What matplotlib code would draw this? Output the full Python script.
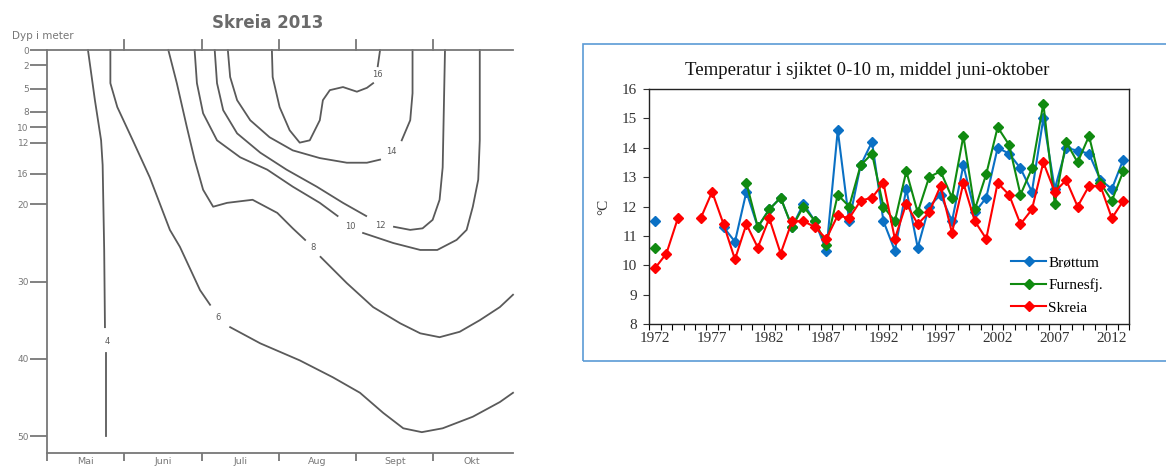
import matplotlib
matplotlib.use('Agg')
import matplotlib.pyplot as plt
import numpy as np
from matplotlib.patches import Rectangle

nan = np.nan

# ---- Left panel: isotherms, Skreia 2013 (month since 1 May, depth in m) ----
months = ['Mai', 'Juni', 'Juli', 'Aug', 'Sept', 'Okt']
depth_ticks = [0, 2, 5, 8, 10, 12, 16, 20, 30, 40, 50]

# each isotherm: (label, label position, list of segments [(months, depths), ...])
iso4 = ('4', (0.78, 37.7), [
    ([0.53, 0.62, 0.70, 0.72, 0.74, 0.75], [0, 6.5, 11.7, 14.9, 25.9, 35.9]),
    ([0.76, 0.76], [39.2, 50.0])])
iso6 = ('6', (2.21, 34.6), [
    ([0.82, 0.82, 0.91, 1.11, 1.33, 1.59, 1.72, 1.98, 2.11],
     [0, 4.3, 7.4, 11.7, 16.5, 23.3, 25.5, 31.1, 33.0]),
    ([2.37, 2.76, 3.27, 3.70, 4.05, 4.35, 4.61, 4.85, 5.12, 5.51, 5.86, 6.03],
     [35.9, 38.0, 40.2, 42.4, 44.4, 47.0, 49.0, 49.5, 49.0, 47.5, 45.6, 44.4])])
iso8 = ('8', (3.44, 25.6), [
    ([1.57, 1.68, 1.81, 1.91, 2.02, 2.15, 2.33, 2.66, 2.98, 3.18, 3.34],
     [0, 4.3, 10.0, 14.2, 18.1, 20.3, 19.8, 19.4, 21.1, 23.1, 24.6]),
    ([3.54, 3.88, 4.22, 4.57, 4.83, 5.08, 5.34, 5.60, 5.86, 6.03],
     [26.8, 30.2, 33.3, 35.4, 36.7, 37.2, 36.5, 35.0, 33.3, 31.7])])
iso10 = ('10', (3.92, 22.9), [
    ([1.91, 1.94, 2.02, 2.20, 2.50, 2.85, 3.18, 3.53, 3.76],
     [0, 4.3, 8.2, 11.7, 13.9, 15.5, 17.7, 19.8, 21.5]),
    ([4.09, 4.48, 4.83, 5.05, 5.30, 5.43, 5.51, 5.58, 5.60, 5.60],
     [23.7, 25.0, 25.9, 25.9, 24.6, 23.3, 20.3, 16.8, 11.7, 0])])
iso12 = ('12', (4.31, 22.7), [
    ([2.17, 2.20, 2.28, 2.46, 2.76, 3.10, 3.49, 3.83, 4.13],
     [0, 4.3, 7.8, 10.8, 13.3, 15.5, 17.7, 19.8, 21.5]),
    ([4.49, 4.70, 4.86, 4.99, 5.08, 5.12, 5.15],
     [22.9, 23.3, 23.1, 22.0, 19.4, 15.2, 0])])
iso14 = ('14', (4.46, 13.2), [
    ([2.34, 2.37, 2.46, 2.63, 2.88, 3.18, 3.53, 3.88, 4.14, 4.31],
     [0, 3.5, 6.5, 9.1, 11.3, 13.0, 14.0, 14.6, 14.6, 14.2]),
    ([4.59, 4.70, 4.73, 4.73], [11.7, 9.1, 5.6, 0])])
iso16 = ('16', (4.28, 3.2), [
    ([2.91, 2.92, 3.01, 3.14, 3.27, 3.40, 3.53, 3.57, 3.66, 3.83, 4.01, 4.14, 4.22],
     [0, 3.5, 7.4, 10.4, 12.0, 11.7, 9.1, 6.5, 5.2, 4.8, 5.4, 4.9, 4.3]),
    ([4.28, 4.31], [2.1, 0])])
isotherms = [iso4, iso6, iso8, iso10, iso12, iso14, iso16]

# ---- Right panel: mean temperature 0-10 m, June-October ----
years = list(range(1972, 2014))
brottum = [11.5, nan, nan, nan, nan, nan, 11.3, 10.8, 12.5, 11.3, 11.9, 12.3, 11.3, 12.1,
           11.5, 10.5, 14.6, 11.5, 13.4, 14.2, 11.5, 10.5, 12.6, 10.6, 12.0, 12.4, 11.5, 13.4,
           11.8, 12.3, 14.0, 13.8, 13.3, 12.5, 15.0, 12.6, 14.0, 13.9, 13.8, 12.9, 12.6, 13.6]
furnesfj = [10.6, nan, nan, nan, nan, nan, nan, nan, 12.8, 11.3, 11.9, 12.3, 11.3, 12.0,
            11.5, 10.7, 12.4, 12.0, 13.4, 13.8, 12.0, 11.5, 13.2, 11.8, 13.0, 13.2, 12.3, 14.4,
            11.9, 13.1, 14.7, 14.1, 12.4, 13.3, 15.5, 12.1, 14.2, 13.5, 14.4, 12.8, 12.2, 13.2]
skreia = [9.9, 10.4, 11.6, nan, 11.6, 12.5, 11.4, 10.2, 11.4, 10.6, 11.6, 10.4, 11.5, 11.5,
          11.3, 10.9, 11.7, 11.6, 12.2, 12.3, 12.8, 10.9, 12.1, 11.4, 11.8, 12.7, 11.1, 12.8,
          11.5, 10.9, 12.8, 12.4, 11.4, 11.9, 13.5, 12.5, 12.9, 12.0, 12.7, 12.7, 11.6, 12.2]
series_names = ['Brøttum', 'Furnesfj.', 'Skreia']
series_colors = ['#0a70c4', '#108a10', '#ff0000']

GRAY = '#5a5a5a'
LIGHT = '#777777'


def drawIsotherms(ax):
    ax.set_xlim(0, 6.03)
    ax.set_ylim(52.2, 0)
    # only top, bottom and left axis lines
    ax.spines.right.set_visible(False)
    for s in ['top', 'bottom', 'left']:
        ax.spines[s].set_color(LIGHT)
        ax.spines[s].set_linewidth(1.3)
    # depth ticks: long ticks to the left
    ax.set_yticks(depth_ticks)
    ax.set_yticklabels([str(d) for d in depth_ticks])
    ax.tick_params(axis='y', direction='out', length=12, width=1.3, color=LIGHT,
                   labelsize=6.5, labelcolor=LIGHT, pad=1)
    # month boundaries on the bottom line
    ax.set_xticks(range(0, 6))
    ax.set_xticklabels([])
    ax.tick_params(axis='x', direction='out', length=6, width=1.3, color=LIGHT)
    # small ticks above the top line
    for m in range(1, 6):
        ax.plot([m, m], [0, -1.3], color=LIGHT, lw=1.3, clip_on=False)
    for i, name in enumerate(months):
        ax.text(i + 0.5, -0.01, name, transform=ax.get_xaxis_transform(),
                ha='center', va='top', fontsize=6.8, color=LIGHT)
    # isotherm lines with a gap at the label
    for label, (lx, ly), segs in isotherms:
        for xs, ys in segs:
            ax.plot(xs, ys, color=GRAY, lw=1.3, solid_joinstyle='round', clip_on=False)
        ax.text(lx, ly, label, ha='center', va='center', fontsize=6, color=GRAY)
    ax.set_title('Skreia 2013', fontsize=12, fontweight='semibold', color='#6a6a6a', pad=16,
                 x=0.474)
    ax.text(-0.075, 1.035, 'Dyp i meter', transform=ax.transAxes, fontsize=7.5,
            color=LIGHT, ha='left', va='center')


def drawSeries(ax):
    for vals, name, col in zip([brottum, furnesfj, skreia], series_names, series_colors):
        ax.plot(years, vals, color=col, lw=1.5, marker='D', markersize=5.5, label=name)
    ax.set_xlim(1971.5, 2013.5)
    ax.set_ylim(8, 16)
    ax.set_yticks(range(8, 17))
    ax.set_xticks(range(1972, 2013, 5))
    ax.set_xticks(np.arange(1971.5, 2014, 1), minor=True)
    ax.tick_params(axis='x', which='major', length=0, pad=6, labelsize=11, colors='#333333')
    ax.tick_params(axis='x', which='minor', direction='out', length=4, width=0.8)
    ax.tick_params(axis='y', direction='out', length=4, width=0.8, labelsize=11,
                   colors='#333333', pad=5)
    for s in ax.spines.values():
        s.set_linewidth(1.0)
        s.set_color('#222222')
    ax.set_ylabel('°C', fontsize=11, color='#333333', labelpad=8)
    ax.set_title('Temperatur i sjiktet 0-10 m, middel juni-oktober', fontsize=13.5,
                 color='#111111', pad=10, x=0.455)
    ax.legend(loc='lower right', bbox_to_anchor=(0.965, 0.0), frameon=False, fontsize=11,
              handlelength=2.3, handletextpad=0.15, labelspacing=0.6, borderaxespad=0.2)


plt.rcParams['font.family'] = ['DejaVu Sans']
fig = plt.figure(figsize=(11.66, 4.70), dpi=100)

ax1 = fig.add_axes([47 / 1166, 1 - 453 / 470, 466 / 1166, 403 / 470])
drawIsotherms(ax1)

# outer frame of the right chart
fig.patches.append(Rectangle((583 / 1166, 1 - 361 / 470), 0.52, 317 / 470,
                             transform=fig.transFigure, fill=False,
                             edgecolor='#5b9bd5', lw=1.2))

plt.rcParams['font.family'] = ['Liberation Serif', 'DejaVu Serif']
ax2 = fig.add_axes([649.3 / 1166, 1 - 324 / 470, 479.7 / 1166, 235 / 470])
drawSeries(ax2)

fig.savefig('out.png', dpi=100)
